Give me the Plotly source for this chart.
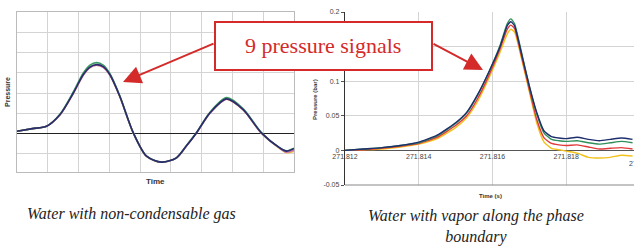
import plotly.graph_objects as go

# ---------- Left chart: water with non-condensable gas (grid units, no scale shown)
left_x = [0, 0.5, 0.96, 1.4, 1.83, 2.15, 2.37, 2.59, 2.8, 3.02, 3.34, 3.78, 4.21, 4.7, 5.18, 5.5,
          5.83, 6.27, 6.81, 7.35, 7.94, 8.54, 8.75, 9.0]
left_navy = [0.11, 0.24, 0.36, 0.94, 2.0, 2.9, 3.28, 3.4, 3.3, 2.9, 1.84, 0.03, -1.12, -1.41, -1.2, -0.62,
             0.03, 1.02, 1.71, 1.18, 0.03, -0.71, -0.87, -0.75]
left_green = [0.11, 0.24, 0.36, 0.96, 2.05, 2.98, 3.38, 3.5, 3.38, 2.95, 1.86, 0.03, -1.12, -1.41, -1.2, -0.6,
              0.05, 1.05, 1.77, 1.22, 0.05, -0.71, -0.85, -0.72]
left_pink = [0.11, 0.24, 0.36, 0.93, 1.98, 2.88, 3.26, 3.37, 3.27, 2.88, 1.82, 0.02, -1.13, -1.42, -1.21, -0.63,
             0.02, 1.0, 1.69, 1.16, 0.02, -0.73, -0.92, -0.82]
left_yellow = [0.11, 0.24, 0.36, 0.93, 1.98, 2.88, 3.26, 3.37, 3.27, 2.88, 1.82, 0.02, -1.13, -1.42, -1.21, -0.63,
               0.02, 1.0, 1.69, 1.16, 0.02, -0.74, -0.95, -0.88]

# ---------- Right chart: water with vapor along the phase boundary
t = [271.8120, 271.8125, 271.8130, 271.8135, 271.8140, 271.8145, 271.8150, 271.8153, 271.8156,
     271.8159, 271.8162, 271.8164, 271.8165, 271.8166, 271.8168, 271.8170, 271.8172, 271.8174,
     271.8176, 271.8178, 271.8180, 271.8183, 271.8186, 271.8189, 271.8192, 271.8195, 271.8198]
p_navy = [0.000, 0.002, 0.004, 0.007, 0.012, 0.022, 0.040, 0.055, 0.081, 0.113, 0.149, 0.180, 0.186,
          0.180, 0.137, 0.093, 0.055, 0.028, 0.020, 0.018, 0.017, 0.019, 0.016, 0.014, 0.016, 0.018, 0.016]
p_green = [0.000, 0.002, 0.004, 0.007, 0.011, 0.021, 0.039, 0.054, 0.080, 0.113, 0.151, 0.183, 0.190,
           0.183, 0.139, 0.093, 0.053, 0.025, 0.016, 0.014, 0.013, 0.014, 0.011, 0.009, 0.011, 0.013, 0.011]
p_red = [0.000, 0.001, 0.003, 0.006, 0.010, 0.019, 0.036, 0.050, 0.075, 0.108, 0.146, 0.175, 0.181,
         0.176, 0.133, 0.088, 0.045, 0.018, 0.010, 0.008, 0.007, 0.008, 0.005, 0.002, 0.003, 0.004, 0.002]
p_yellow = [0.000, 0.001, 0.002, 0.005, 0.009, 0.017, 0.033, 0.047, 0.071, 0.104, 0.141, 0.168, 0.175,
            0.171, 0.130, 0.085, 0.040, 0.012, 0.003, 0.001, -0.001, -0.004, -0.010, -0.011, -0.010, -0.007, -0.008]

right_xticks = [271.812, 271.814, 271.816, 271.818]
right_xticktext = ["271.812", "271.814", "271.816", "271.818"]
right_yticks = [-0.05, 0, 0.05, 0.1, 0.15, 0.2]
right_yticktext = ["-0.05", "0", "0.05", "0.1", "0.15", "0.2"]

label_text = "9 pressure signals"
caption_left = "Water with non-condensable gas"
caption_right = "Water with vapor along the phase<br>boundary"

fig = go.Figure()

for ys, col in [(left_yellow, "#e8c040"), (left_pink, "#d070b0"), (left_green, "#3a9a60"), (left_navy, "#2b2b6e")]:
    fig.add_trace(go.Scatter(x=left_x, y=ys, mode="lines", line=dict(color=col, width=1.6, shape="spline", smoothing=0.8),
                             xaxis="x", yaxis="y", showlegend=False, hoverinfo="skip"))

for ys, col in [(p_yellow, "#f2c21b"), (p_red, "#e03a3a"), (p_green, "#2f8f5a"), (p_navy, "#1f2f6e")]:
    fig.add_trace(go.Scatter(x=t, y=ys, mode="lines", line=dict(color=col, width=1.4, shape="spline", smoothing=0.5),
                             xaxis="x2", yaxis="y2", showlegend=False, hoverinfo="skip"))

grid = "#d4d4d4"
W, H = 634, 250

fig.update_layout(
    template="none",
    width=W, height=H, margin=dict(l=0, r=0, t=0, b=0, pad=0, autoexpand=False),
    paper_bgcolor="white", plot_bgcolor="white",
    xaxis=dict(domain=[17 / W, 294 / W], range=[0, 9], dtick=1, showticklabels=False, ticks="",
               showgrid=True, gridcolor=grid, gridwidth=1, zeroline=False, automargin=False,
               showline=True, linecolor="#bbbbbb", linewidth=1, mirror=True),
    yaxis=dict(domain=[1 - 172 / H, 1 - 12 / H], range=[-1.9, 6], dtick=1, showticklabels=False, ticks="",
               showgrid=True, gridcolor=grid, gridwidth=1, zeroline=True, zerolinecolor="#222222",
               zerolinewidth=1.2, showline=True, linecolor="#bbbbbb", linewidth=1, mirror=True, automargin=False),
    xaxis2=dict(domain=[345 / W, 1], range=[271.812, 271.81984], anchor="free", position=1 - 151 / H,
                tickmode="array", tickvals=right_xticks, ticktext=right_xticktext, ticks="",
                tickfont=dict(family="Liberation Sans", size=7, color="#444444"), automargin=False,
                showgrid=True, gridcolor=grid, gridwidth=1, zeroline=False, showline=False),
    yaxis2=dict(domain=[1 - 185 / H, 1 - 12 / H], range=[-0.05, 0.2], anchor="x2",
                tickmode="array", tickvals=right_yticks, ticktext=right_yticktext, ticks="outside",
                ticklen=3, tickcolor="#555555", automargin=False,
                tickfont=dict(family="Liberation Sans", size=7, color="#444444"),
                showgrid=True, gridcolor=grid, gridwidth=1, zeroline=True, zerolinecolor="#555555",
                zerolinewidth=1.2, showline=True, linecolor="#333333", linewidth=1.2),
)

shapes = [
    dict(type="line", xref="x2 domain", yref="y2 domain", x0=0, x1=1, y0=0, y1=0,
         line=dict(color="#888888", width=1)),
    dict(type="rect", xref="paper", yref="paper", x0=215 / W, x1=432 / W, y0=1 - 70 / H, y1=1 - 22 / H,
         fillcolor="white", line=dict(color="#d42a2a", width=2), layer="above"),
]
fig.update_layout(shapes=shapes)

red = "#d42a2a"
serif = "Liberation Serif"


def txt(text, x, y, size, family="Liberation Sans", color="#333333", angle=0, style="normal"):
    return dict(text=text, xref="paper", yref="paper", x=x / W, y=1 - y / H, showarrow=False,
                xanchor="center", yanchor="middle", textangle=angle,
                font=dict(family=family, size=size, color=color, style=style))


ann = [
    txt(label_text, 323, 46, 22, family=serif, color=red),
    dict(text="", xref="paper", yref="paper", x=123 / W, y=1 - 82 / H, ax=92, ay=-39, showarrow=True,
         arrowhead=2, arrowsize=1.8, arrowwidth=2, arrowcolor=red),
    dict(text="", xref="paper", yref="paper", x=483 / W, y=1 - 70 / H, ax=-51, ay=-27, showarrow=True,
         arrowhead=2, arrowsize=1.8, arrowwidth=2, arrowcolor=red),
    txt("<b>Pressure</b>", 7, 92, 7, angle=-90),
    txt("<b>Time</b>", 155, 181, 8),
    txt("<b>Pressure (bar)</b>", 315, 100, 6, angle=-90),
    txt("<b>Time (s)</b>", 490, 196, 6),
    txt("271.82", 640, 163, 7, color="#444444"),
    txt(caption_left, 131, 214, 16, family=serif, color="#222222", style="italic"),
    txt(caption_right, 476, 226, 16, family=serif, color="#222222", style="italic"),
]
fig.update_layout(annotations=ann)

fig.write_html("out.html", config={"displayModeBar": False, "staticPlot": True},
               post_script="document.body.style.margin='0';document.body.style.overflow='hidden';")
